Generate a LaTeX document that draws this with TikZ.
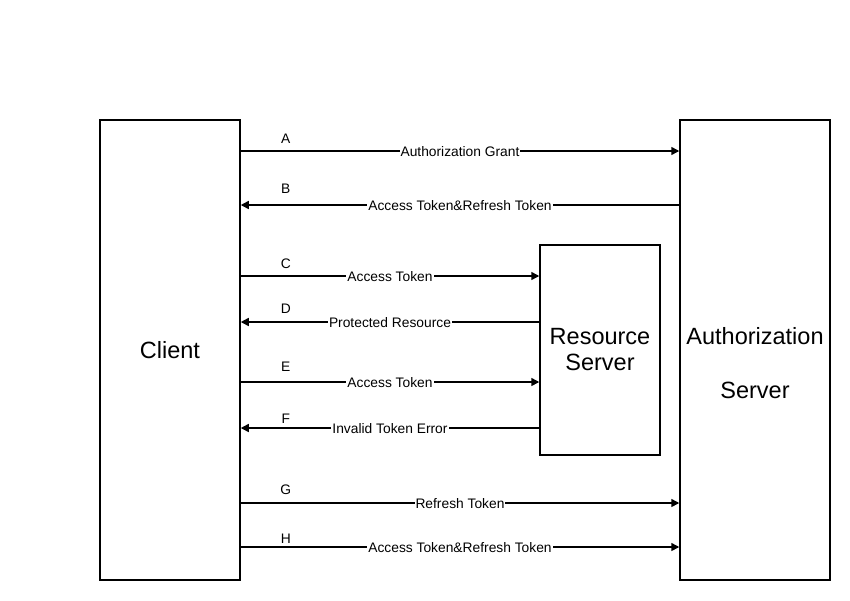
\documentclass[tikz,border=0pt]{standalone}
\usepackage{fontspec}
\setmainfont{Liberation Sans}
\usetikzlibrary{arrows.meta,calc}
\begin{document}
\begin{tikzpicture}
  [x=1pt,y=-1pt,
   party/.style={draw,line width=1.5pt,inner sep=0pt,align=center,font=\fontsize{23.5}{26}\selectfont},
   msg/.style={line width=1.5pt,-{Triangle[length=8pt,width=8pt]}},
   lbl/.style={fill=white,inner sep=1pt,yshift=-1pt,font=\fontsize{13.8}{15}\selectfont},
   tag/.style={inner sep=0pt,font=\fontsize{13.8}{15}\selectfont}]
  \useasboundingbox (0,0) rectangle (850,600);

  \node[party,minimum width=140pt,minimum height=460pt] (client) at (170,350) {Client};
  \node[party,minimum width=150pt,minimum height=460pt] (auth) at (755,350) {};
  \node[party,minimum width=120pt,minimum height=210pt] (res) at (600,350) {Resource\\Server};
  \node[align=center,inner sep=0pt,font=\fontsize{23.5}{26}\selectfont] (authtxt) at (755,363) {Authorization\\[28pt]Server};

  \foreach \y/\from/\to/\tag/\dy/\txt in {
      151/client.east/auth.west/A/12/Authorization Grant,
      205/auth.west/client.east/B/16/Access Token\&Refresh Token,
      276/client.east/res.west/C/12/Access Token,
      322/res.west/client.east/D/13/Protected Resource,
      382/client.east/res.west/E/15/Access Token,
      428/res.west/client.east/F/9/Invalid Token Error,
      503/client.east/auth.west/G/13/Refresh Token,
      547/client.east/auth.west/H/8/Access Token\&Refresh Token}
  {
    \draw[msg] (\from |- 0,\y) -- node[lbl] (l\tag) {\txt} (\to |- 0,\y);
    \node[tag] (t\tag) at ($(client.east |- 0,\y)+(45,-\dy)$) {\tag};
  }

\end{tikzpicture}
\end{document}
